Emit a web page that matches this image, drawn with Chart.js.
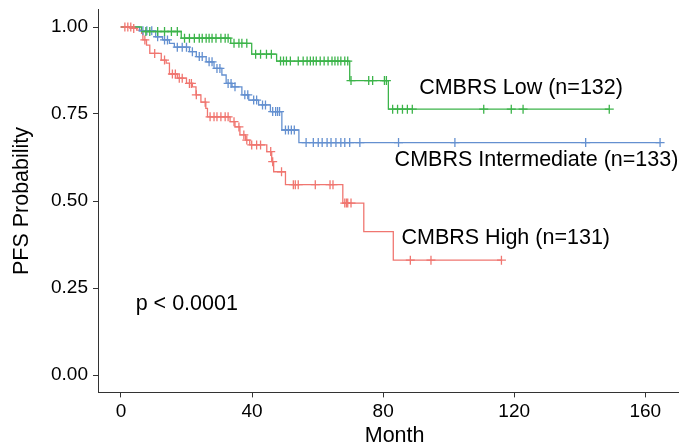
<!DOCTYPE html>
<html>
<head>
<meta charset="utf-8">
<script src="https://cdn.jsdelivr.net/npm/chart.js@4.4.1/dist/chart.umd.min.js"></script>
<style>
  html, body { margin: 0; padding: 0; background: #ffffff; overflow: hidden; }
  #wrap { width: 679px; height: 448px; position: relative; overflow: hidden; }
  #c { display: block; }
</style>
</head>
<body>
<div id="wrap"><canvas id="c" width="697" height="448" style="width:697px;height:448px"></canvas></div>
<script>
// ---------------- DATA ----------------
const xTicks = [0, 40, 80, 120, 160];
const yTicks = [0, 0.25, 0.5, 0.75, 1.0];

// CMBRS Low (green)
const lowTimes = [0, 6.3, 18.4, 33.5, 39.9, 47.5, 69.8, 81.6, 149.0];
const lowSurv  = [1, 0.987, 0.968, 0.953, 0.922, 0.902, 0.846, 0.764, 0.764];
const lowCensor = [7.6, 8.8, 11.2, 13.3, 15.4, 17.2, 19.4, 20.9, 22.4, 23.9, 24.8, 26.0, 26.9, 27.8,
  29.0, 30.5, 31.8, 32.7, 34.5, 36.0, 36.9, 38.4, 41.1, 42.6, 44.4, 45.9, 48.7, 49.6, 50.5, 51.7,
  54.1, 55.6, 56.8, 57.8, 58.7, 59.6, 60.8, 62.0, 63.2, 64.4, 65.3, 66.2, 67.1, 68.3, 69.2, 70.2,
  75.6, 76.8, 80.4, 81.0, 82.9, 84.4, 85.9, 87.4, 88.9, 110.7, 119.1, 122.7, 149.0];

// CMBRS Intermediate (blue)
const midTimes = [0, 5.7, 10.6, 12.7, 14.8, 16.3, 20.9, 23.0, 26.0, 28.4, 30.8, 32.1, 33.9, 36.9,
  39.0, 42.0, 45.6, 49.1, 54.3, 164.5];
const midSurv  = [1, 0.989, 0.972, 0.963, 0.953, 0.942, 0.929, 0.915, 0.900, 0.881, 0.862, 0.838,
  0.828, 0.805, 0.790, 0.776, 0.757, 0.704, 0.668, 0.668];
const midCensor = [6.7, 7.9, 9.4, 11.2, 13.3, 14.2, 17.2, 18.7, 20.0, 21.8, 23.9, 24.8, 26.9, 27.8,
  29.3, 30.2, 32.7, 33.6, 34.8, 37.8, 38.7, 40.5, 41.4, 43.2, 44.1, 46.3, 47.2, 47.8, 48.4, 50.2,
  51.1, 52.0, 52.9, 56.5, 58.7, 60.2, 61.4, 62.9, 64.1, 65.6, 67.1, 68.3, 69.8, 72.9, 84.7, 101.9,
  141.8, 164.5];

// CMBRS High (red)
const highTimes = [0, 3.6, 4.8, 6.3, 6.7, 7.8, 8.8, 12.3, 13.8, 14.8, 17.2, 20.0, 21.8, 22.9, 24.4,
  25.9, 26.4, 33.3, 34.8, 36.3, 38.0, 39.3, 44.5, 46.0, 46.6, 50.2, 67.7, 74.1, 83.1, 116.1];
const highSurv  = [1, 0.996, 0.991, 0.982, 0.963, 0.948, 0.924, 0.905, 0.896, 0.865, 0.853, 0.838,
  0.828, 0.805, 0.784, 0.766, 0.742, 0.728, 0.713, 0.690, 0.675, 0.661, 0.642, 0.613, 0.584, 0.547,
  0.494, 0.412, 0.330, 0.330];
const highCensor = [1.2, 2.1, 3.0, 3.9, 7.3, 10.3, 13.3, 15.7, 16.6, 17.8, 18.7, 20.9, 21.5, 23.0,
  25.7, 27.2, 28.4, 29.3, 30.5, 31.8, 32.7, 34.5, 36.0, 37.5, 38.4, 39.9, 41.4, 42.6, 45.7, 46.3,
  49.0, 52.6, 53.2, 54.1, 59.3, 63.8, 64.7, 68.3, 68.8, 69.2, 70.2, 88.3, 94.6, 116.1];

const groupNames = ["CMBRS Low (n=132)", "CMBRS Intermediate (n=133)", "CMBRS High (n=131)"];
const pValueText = "p < 0.0001";

// ---------------- helpers ----------------
function stepPoints(times, surv) {
  return times.map((t, i) => ({ x: t, y: surv[i] }));
}
function survAt(times, surv, t) {
  let v = surv[0];
  for (let i = 0; i < times.length; i++) { if (times[i] <= t) v = surv[i]; }
  return v;
}
function censorPoints(times, surv, cens) {
  return cens.map(t => ({ x: t, y: survAt(times, surv, t) }));
}

const GREEN = '#3cb44a', BLUE = '#6490d0', RED = '#f07670';
const FONT = "'Liberation Sans', Arial, Helvetica, sans-serif";

function lineDs(times, surv, color) {
  return { type: 'line', data: stepPoints(times, surv), borderColor: color, borderWidth: 1.3,
    stepped: 'before', pointRadius: 0, fill: false, order: 2 };
}
function censDs(times, surv, cens, color) {
  return { type: 'scatter', data: censorPoints(times, surv, cens), borderColor: color,
    backgroundColor: color, pointStyle: 'cross', pointRadius: 4.5, borderWidth: 1.3,
    showLine: false, order: 1 };
}

const annotations = [
  { text: groupNames[0], x: 91, y: 0.825 },
  { text: groupNames[1], x: 83.5, y: 0.618 },
  { text: groupNames[2], x: 85.6, y: 0.394 },
  { text: pValueText, x: 4.5, y: 0.204 }
];

const textPlugin = {
  id: 'kmText',
  afterDatasetsDraw(chart) {
    const { ctx, scales: { x, y } } = chart;
    ctx.save();
    ctx.fillStyle = '#000';
    ctx.font = '21.5px ' + FONT;
    ctx.textAlign = 'left';
    ctx.textBaseline = 'middle';
    annotations.forEach(a => ctx.fillText(a.text, x.getPixelForValue(a.x), y.getPixelForValue(a.y)));
    ctx.restore();
  }
};

new Chart(document.getElementById('c'), {
  data: {
    datasets: [
      lineDs(lowTimes, lowSurv, GREEN),
      lineDs(midTimes, midSurv, BLUE),
      lineDs(highTimes, highSurv, RED),
      censDs(lowTimes, lowSurv, lowCensor, GREEN),
      censDs(midTimes, midSurv, midCensor, BLUE),
      censDs(highTimes, highSurv, highCensor, RED)
    ]
  },
  options: {
    responsive: false,
    animation: false,
    devicePixelRatio: 1,
    layout: { padding: { top: 9.6, right: 1, left: 0, bottom: 0 } },
    plugins: { legend: { display: false }, tooltip: { enabled: false } },
    scales: {
      x: {
        type: 'linear', min: -7, max: 174,
        afterBuildTicks: s => { s.ticks = xTicks.map(v => ({ value: v })); },
        afterFit: s => { s.height = 55.6; s.paddingLeft = 0; s.paddingRight = 0; },
        grid: { display: true, drawOnChartArea: false, drawTicks: true, tickLength: 5, color: '#333', lineWidth: 1 },
        border: { display: true, color: '#333', width: 1 },
        ticks: { color: '#000', font: { family: FONT, size: 19 }, padding: 3, maxRotation: 0 },
        title: { display: true, text: 'Month', color: '#000', font: { family: FONT, size: 21.5, lineHeight: 1.1 },
          padding: { top: 0, bottom: 0 } }
      },
      y: {
        type: 'linear', min: -0.05, max: 1.05,
        afterBuildTicks: s => { s.ticks = yTicks.map(v => ({ value: v })); },
        afterFit: s => { s.width = 98; s.paddingTop = 0; s.paddingBottom = 0; },
        grid: { display: true, drawOnChartArea: false, drawTicks: true, tickLength: 5, color: '#333', lineWidth: 1 },
        border: { display: true, color: '#333', width: 1 },
        ticks: { color: '#000', font: { family: FONT, size: 19 }, padding: 5,
          callback: v => Number(v).toFixed(2) },
        title: { display: true, text: 'PFS Probability', color: '#000', font: { family: FONT, size: 21.5, lineHeight: 1.1 },
          padding: { top: 10, bottom: 0 } }
      }
    }
  },
  plugins: [textPlugin]
});
</script>
</body>
</html>
